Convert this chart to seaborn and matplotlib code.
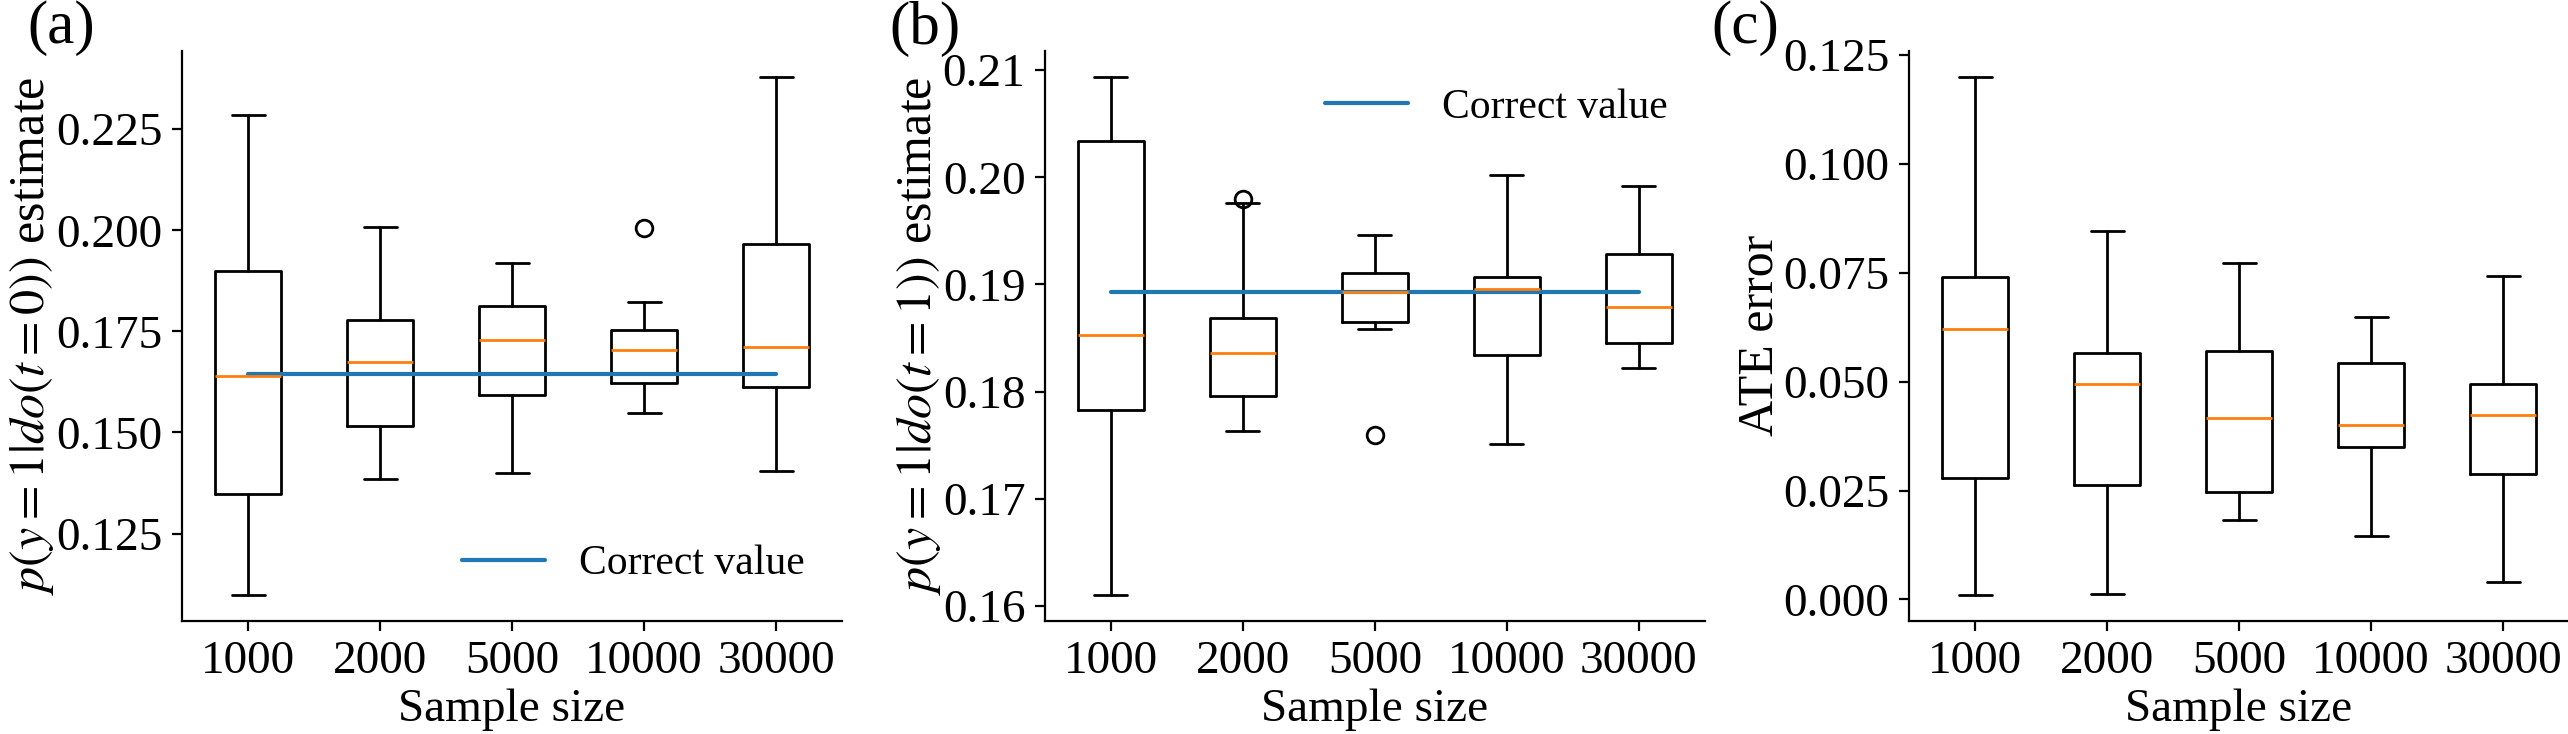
import matplotlib
matplotlib.use("Agg")
import matplotlib.pyplot as plt
import seaborn as sns

# sample sizes on the x axis
sizes = ["1000", "2000", "5000", "10000", "30000"]

# (a) p(y=1|do(t=0)) estimate
a_whislo = [0.1098, 0.1384, 0.1399, 0.1548, 0.1405]
a_q1 = [0.1347, 0.1515, 0.1592, 0.1622, 0.1613]
a_med = [0.1640, 0.1673, 0.1729, 0.1704, 0.1712]
a_q3 = [0.1899, 0.1777, 0.1813, 0.1753, 0.1967]
a_whishi = [0.2285, 0.2007, 0.1920, 0.1823, 0.2380]
a_fliers = [[], [], [], [0.2005], []]
a_correct = 0.1644

# (b) p(y=1|do(t=1)) estimate
b_whislo = [0.1610, 0.1763, 0.1858, 0.1751, 0.1822]
b_q1 = [0.1783, 0.1796, 0.1865, 0.1834, 0.1845]
b_med = [0.1853, 0.1836, 0.1893, 0.1896, 0.1879]
b_q3 = [0.2034, 0.1869, 0.1911, 0.1907, 0.1928]
b_whishi = [0.2094, 0.1976, 0.1946, 0.2002, 0.1992]
b_fliers = [[], [0.1980], [0.1759], [], []]
b_correct = 0.1893

# (c) ATE error
c_whislo = [0.0010, 0.0012, 0.0183, 0.0145, 0.0041]
c_q1 = [0.0278, 0.0263, 0.0246, 0.0349, 0.0289]
c_med = [0.0620, 0.0495, 0.0416, 0.0401, 0.0424]
c_q3 = [0.0740, 0.0566, 0.0571, 0.0544, 0.0495]
c_whishi = [0.1201, 0.0846, 0.0773, 0.0648, 0.0744]
c_fliers = [[], [], [], [], []]

sns.set_style("ticks", {"axes.edgecolor": "black", "text.color": "black",
                        "xtick.color": "black", "ytick.color": "black",
                        "axes.labelcolor": "black"})
plt.rcParams["font.family"] = ["Liberation Serif", "DejaVu Serif"]
plt.rcParams["mathtext.fontset"] = "stix"
plt.rcParams["font.size"] = 17


def make_stats(whislo, q1, med, q3, whishi, fliers):
    return [dict(whislo=whislo[i], q1=q1[i], med=med[i], q3=q3[i],
                 whishi=whishi[i], fliers=fliers[i]) for i in range(len(sizes))]


def draw_panel(ax, stats, correct=None, legend_loc=None):
    pos = list(range(1, len(sizes) + 1))
    ax.bxp(stats, positions=pos, widths=0.5, showfliers=True,
           boxprops=dict(color="black", linewidth=1.0),
           whiskerprops=dict(color="black", linewidth=1.0),
           capprops=dict(color="black", linewidth=1.0),
           medianprops=dict(color="#ff7f0e", linewidth=1.0),
           flierprops=dict(marker="o", markerfacecolor="none",
                           markeredgecolor="black", markersize=6))
    if correct is not None:
        sns.lineplot(x=pos, y=[correct] * len(pos), ax=ax, color="#1f77b4",
                     linewidth=1.5, label="Correct value")
        ax.legend(loc=legend_loc, frameon=False, fontsize=15)
    ax.set_xlim(0.5, len(sizes) + 0.5)
    ax.set_xticks(pos)
    ax.set_xticklabels(sizes)
    ax.set_xlabel("Sample size", labelpad=2)
    sns.despine(ax=ax)


fig = plt.figure(figsize=(12.84, 3.67), dpi=200)
ax_a = fig.add_axes([0.0709, 0.154, 0.257, 0.777])
ax_b = fig.add_axes([0.4069, 0.154, 0.257, 0.777])
ax_c = fig.add_axes([0.7434, 0.154, 0.257, 0.777])

draw_panel(ax_a, make_stats(a_whislo, a_q1, a_med, a_q3, a_whishi, a_fliers),
           a_correct, "lower right")
ax_a.set_ylabel(r"$p(y=1|do(t=0))$ estimate", fontsize=18, labelpad=0)

draw_panel(ax_b, make_stats(b_whislo, b_q1, b_med, b_q3, b_whishi, b_fliers),
           b_correct, "upper right")
ax_b.set_ylabel(r"$p(y=1|do(t=1))$ estimate", fontsize=18, labelpad=0)

draw_panel(ax_c, make_stats(c_whislo, c_q1, c_med, c_q3, c_whishi, c_fliers))
ax_c.set_ylabel("ATE error", fontsize=18, labelpad=0)

for ax, lab, xx in [(ax_a, "(a)", -0.235), (ax_b, "(b)", -0.235), (ax_c, "(c)", -0.30)]:
    ax.text(xx, 1.088, lab, transform=ax.transAxes, fontsize=22,
            ha="left", va="top")

fig.savefig("out.png", dpi=200)
